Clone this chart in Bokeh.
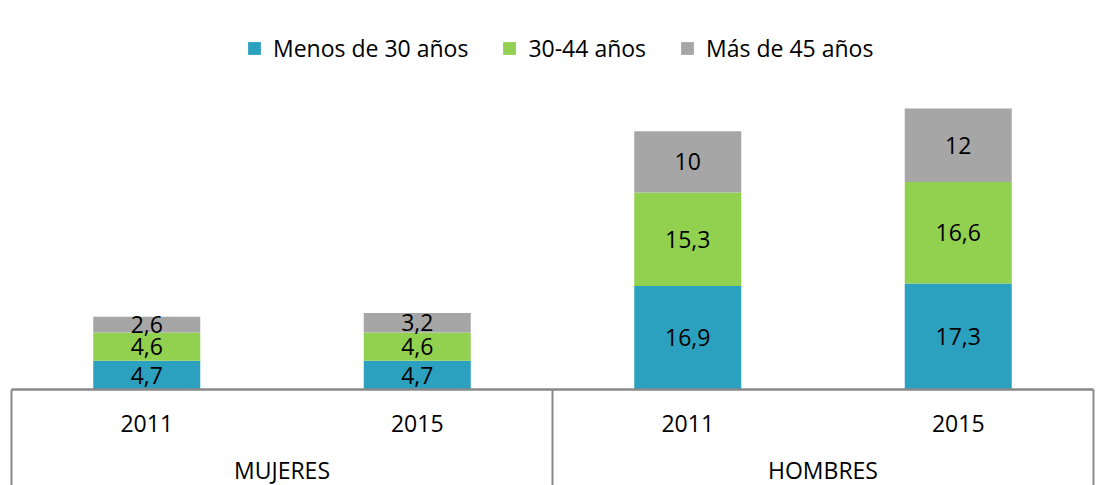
from bokeh.plotting import figure
from bokeh.models import FactorRange, Range1d, ColumnDataSource, Legend, LegendItem
from bokeh.core.properties import value
from bokeh.embed import file_html
from bokeh.resources import INLINE

# ---- data ----
groups = ["MUJERES", "HOMBRES"]
years = ["2011", "2015"]
series = ["Menos de 30 años", "30-44 años", "Más de 45 años"]
menos30 = [4.7, 4.7, 16.9, 17.3]
de30a44 = [4.6, 4.6, 15.3, 16.6]
mas45 = [2.6, 3.2, 10, 12]
colors = ["#2CA1BF", "#92D050", "#A6A6A6"]

FONT = "Open Sans"
FS = "23px"
factors = [(g, y) for g in groups for y in years]
keys = ["s0", "s1", "s2"]
src = ColumnDataSource(dict(x=factors, s0=menos30, s1=de30a44, s2=mas45))

p = figure(width=1104, height=485, output_backend="svg", toolbar_location=None,
           x_range=FactorRange(*factors, group_padding=0, factor_padding=0,
                               range_padding=0.0407, range_padding_units="absolute"),
           y_range=Range1d(-15.69, 63.56), min_border=0,
           outline_line_color=None, background_fill_color="white")
p.xaxis.visible = False
p.yaxis.visible = False
p.xgrid.visible = False
p.ygrid.visible = False

rs = p.vbar_stack(keys, x="x", width=0.3956, source=src, color=colors, line_width=0)

# value labels
def fmt(v):
    s = ("%.1f" % v)
    if s.endswith(".0"):
        s = s[:-2]
    return s.replace(".", ",")

lx, ly, lt = [], [], []
for i, f in enumerate(factors):
    base = 0.0
    for arr in (menos30, de30a44, mas45):
        v = arr[i]
        lx.append(f)
        ly.append(base + v / 2)
        lt.append(fmt(v))
        base += v
p.text(x=lx, y=ly, text=lt, text_align="center", text_baseline="middle",
       text_font=value(FONT), text_font_size=FS, text_color="#000000")

# axis frame lines
lc = "#898989"
p.segment(x0=[("MUJERES", "2011", -0.5)], y0=[0], x1=[("HOMBRES", "2015", 0.5)], y1=[0],
          line_color=lc, line_width=2.5)
p.segment(x0=[("MUJERES", "2011", -0.5), ("HOMBRES", "2011", -0.5), ("HOMBRES", "2015", 0.5)],
          y0=[0, 0, 0],
          x1=[("MUJERES", "2011", -0.5), ("HOMBRES", "2011", -0.5), ("HOMBRES", "2015", 0.5)],
          y1=[-20, -20, -20], line_color=lc, line_width=2)

# category labels
p.text(x=factors, y=[-5.64] * 4, text=[f[1] for f in factors], text_align="center",
       text_baseline="middle", text_font=value(FONT), text_font_size=FS, text_color="#000000")
p.text(x=groups, y=[-13.2] * 2, text=groups, text_align="center",
       text_baseline="middle", text_font=value(FONT), text_font_size=FS, text_color="#000000")

legend = Legend(items=[LegendItem(label=s, renderers=[r]) for s, r in zip(series, rs)],
                orientation="horizontal", location=(246, 421),
                glyph_width=16, glyph_height=16, label_standoff=11, spacing=33,
                label_text_font=FONT, label_text_font_size=FS, label_text_color="#000000",
                border_line_color=None, background_fill_alpha=0, padding=0, margin=0)
p.add_layout(legend)

open("out.html", "w").write(file_html(p, INLINE))
